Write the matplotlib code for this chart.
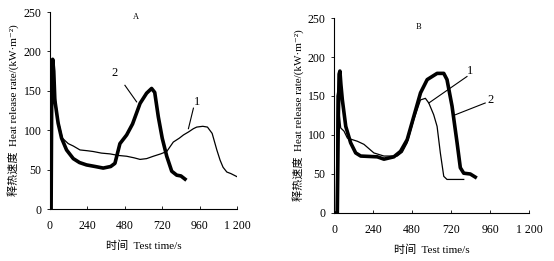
import matplotlib.pyplot as plt

plt.rcParams['font.family'] = ['Liberation Serif', 'Noto Sans CJK SC', 'DejaVu Serif']
plt.rcParams['font.size'] = 8.5

# Panel A
a1_t = [0, 8, 15, 30, 50, 80, 118, 150, 193, 240, 278, 330, 385, 440, 492, 540, 578, 620, 663, 710, 749,
        791, 830, 856, 890, 920, 941, 980, 1010, 1040, 1070, 1091, 1110, 1134, 1160, 1200]
a1_v = [0, 120, 175, 150, 115, 90, 83, 80, 75, 74, 73, 71, 70, 68, 67, 65, 63, 64, 67, 70, 73,
        85, 90, 94, 98, 102, 104, 105, 104, 96, 75, 62, 53, 47, 45, 41]
a2_t = [0, 8, 12, 18, 25, 32, 53, 75, 107, 150, 190, 235, 290, 342, 390, 417, 449, 492, 530, 578, 620,
        652, 672, 695, 720, 749, 781, 813, 840, 866]
a2_v = [0, 0, 150, 190, 175, 138, 109, 90, 75, 64, 59, 56, 54, 52, 54, 58, 83, 94, 108, 134, 147,
        153, 148, 117, 90, 67, 48, 43, 42, 38]

# Panel B
b1_t = [0, 14, 18, 22, 30, 41, 61, 82, 143, 184, 245, 307, 389, 420, 450, 491, 532, 562, 583, 613,
        634, 654, 675, 695, 750, 798]
b1_v = [0, 0, 150, 155, 130, 109, 105, 96, 92, 88, 77, 73, 73, 78, 90, 120, 145, 147, 141, 126,
        111, 77, 47, 43, 43, 43]
b2_t = [0, 20, 26, 31, 36, 42, 51, 72, 102, 133, 164, 266, 307, 368, 409, 450, 491, 532, 573, 634,
        675, 695, 726, 757, 777, 798, 838, 869]
b2_v = [0, 0, 120, 178, 182, 165, 145, 111, 90, 77, 73, 72, 69, 72, 79, 94, 124, 154, 171, 179,
        179, 171, 137, 90, 58, 51, 50, 46]

xticks = [0, 240, 480, 720, 960, 1200]
xticklabels = ['0', '240', '480', '720', '960', '1 200']
yticks = [0, 50, 100, 150, 200, 250]

fig = plt.figure(figsize=(5.54, 2.61), dpi=100)
axA = fig.add_axes([0.090, 0.199, 0.338, 0.755])
axB = fig.add_axes([0.603, 0.184, 0.352, 0.747])


def style(ax):
    ax.set_xlim(0, 1200)
    ax.set_ylim(0, 250)
    ax.set_xticks(xticks)
    ax.set_xticklabels(xticklabels)
    ax.set_yticks(yticks)
    ax.spines['top'].set_visible(False)
    ax.spines['right'].set_visible(False)
    ax.spines['left'].set_linewidth(0.8)
    ax.spines['bottom'].set_linewidth(0.8)
    ax.tick_params(axis='x', direction='in', length=2, width=0.6, pad=8)
    ax.tick_params(axis='y', direction='out', length=2, width=0.6, pad=4)
    ax.set_xlabel('时间  Test time/s', labelpad=6, fontsize=8)
    ax.set_ylabel('释热速度  Heat release rate/(kW·m⁻²)', labelpad=3, fontsize=8)


axA.plot(a1_t, a1_v, color='black', lw=0.9)
axA.plot(a2_t, a2_v, color='black', lw=2.6)
style(axA)
axA.text(550, 244, 'A', ha='center', va='center', fontsize=6)
axA.text(417, 173, '2', ha='center', va='center', fontsize=9)
axA.plot([481, 556], [157, 136], color='black', lw=0.8)
axA.text(941, 136, '1', ha='center', va='center', fontsize=9)
axA.plot([920, 888], [128, 102], color='black', lw=0.8)

axB.plot(b1_t, b1_v, color='black', lw=0.9)
axB.plot(b2_t, b2_v, color='black', lw=2.6)
style(axB)
axB.text(521, 238, 'B', ha='center', va='center', fontsize=6)
axB.text(838, 182, '1', ha='center', va='center', fontsize=9)
axB.plot([818, 583], [175, 141], color='black', lw=0.8)
axB.text(961, 145, '2', ha='center', va='center', fontsize=9)
axB.plot([930, 747], [141, 126], color='black', lw=0.8)

fig.savefig('out.png', dpi=100)
